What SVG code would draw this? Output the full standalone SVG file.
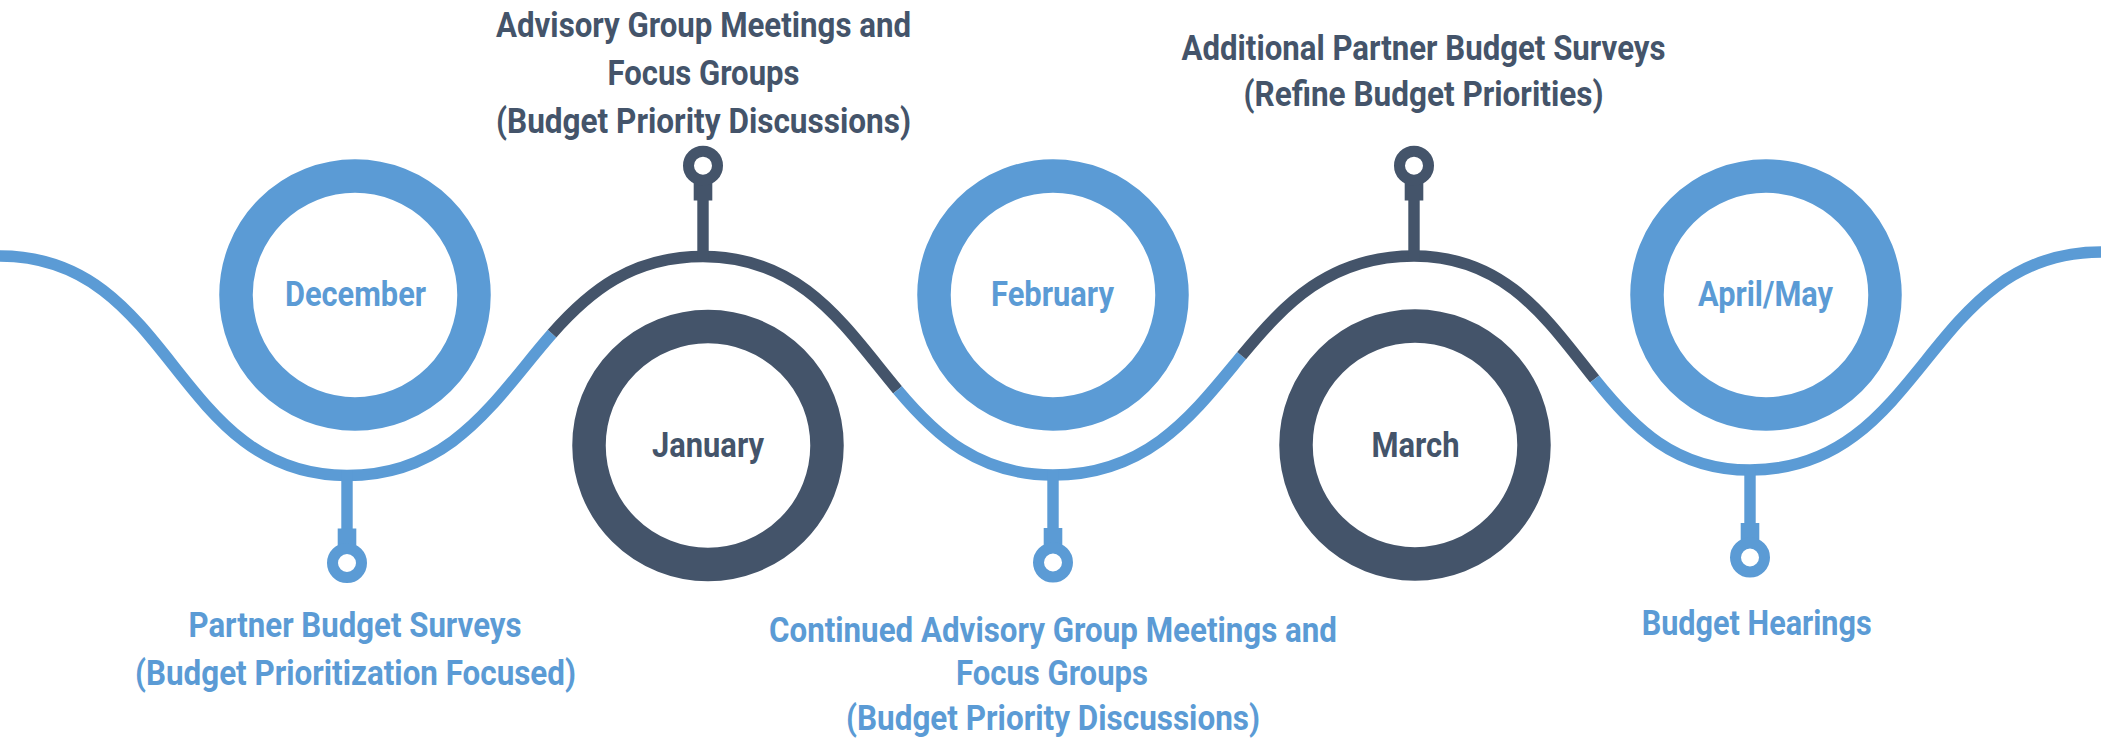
<svg xmlns="http://www.w3.org/2000/svg" width="2101" height="742" viewBox="0 0 2101 742">
  <style>
    .lbl { font-family: Roboto, "Liberation Sans", sans-serif; font-weight: 700; font-size: 35px; text-anchor: middle; }
    .light { fill: #5B9BD5; }
    .dark { fill: #44546A; }
    .wave { fill: none; stroke-width: 11.5; stroke-linecap: butt; }
    .wave.light { stroke: #5B9BD5; fill: none; }
    .wave.dark { stroke: #44546A; fill: none; }
    .ring { fill: none; stroke-width: 33.5; }
    .eye { fill: none; stroke-width: 11; }
  </style>

  <!-- timeline wave, split into coloured runs -->
  <g id="connectors">
    <path class="wave light" d="M -10,256 H 0 C 173.5,256 173.5,475.5 347,475.5 C 453.8,475.5 496.52,396.66 552.06,333.59"/>
    <path class="wave dark" d="M 552.06,333.59 C 589.08,291.54 631.8,256.5 703,256.5 C 803.45,256.5 846.24,328.49 897.57,389.83"/>
    <path class="wave light" d="M 897.57,389.83 C 935.66,435.35 978.45,475 1053,475 C 1148.67,475 1193.63,413.48 1241.63,355.66"/>
    <path class="wave dark" d="M 1241.63,355.66 C 1284.2,304.38 1329.17,256 1414,256 C 1506.4,256 1547.98,320.74 1594.64,379"/>
    <path class="wave light" d="M 1594.64,379 C 1632.82,426.67 1674.4,470 1750,470 C 1925.5,470 1925.5,252 2101,252 H 2112"/>
  </g>

  <!-- December -->
  <g id="node-december">
    <circle class="ring" cx="355" cy="295" r="119" stroke="#5B9BD5"/>
    <text class="lbl light" x="355.5" y="306" textLength="141" lengthAdjust="spacingAndGlyphs">December</text>
  </g>
  <g id="pin-december">
    <rect class="light" x="341.3" y="470" width="11.4" height="60"/>
    <rect class="light" x="337.7" y="528.5" width="18.6" height="19"/>
    <circle class="eye" cx="347" cy="563" r="14.5" stroke="#5B9BD5"/>
    <text class="lbl light" x="355" y="636.7" textLength="333" lengthAdjust="spacingAndGlyphs">Partner Budget Surveys</text>
    <text class="lbl light" x="355.5" y="685" textLength="441" lengthAdjust="spacingAndGlyphs">(Budget Prioritization Focused)</text>
  </g>

  <!-- January -->
  <g id="node-january">
    <circle class="ring" cx="708" cy="445.5" r="119" stroke="#44546A"/>
    <text class="lbl dark" x="708" y="457" textLength="112" lengthAdjust="spacingAndGlyphs">January</text>
  </g>
  <g id="pin-january">
    <rect class="dark" x="697.3" y="199" width="11.4" height="60"/>
    <rect class="dark" x="693.7" y="181.5" width="18.6" height="19"/>
    <circle class="eye" cx="703" cy="165.7" r="14.5" stroke="#44546A"/>
    <text class="lbl dark" x="703.5" y="36.7" textLength="415" lengthAdjust="spacingAndGlyphs">Advisory Group Meetings and</text>
    <text class="lbl dark" x="703.5" y="85" textLength="192" lengthAdjust="spacingAndGlyphs">Focus Groups</text>
    <text class="lbl dark" x="703.5" y="133.3" textLength="415" lengthAdjust="spacingAndGlyphs">(Budget Priority Discussions)</text>
  </g>

  <!-- February -->
  <g id="node-february">
    <circle class="ring" cx="1053" cy="295" r="119" stroke="#5B9BD5"/>
    <text class="lbl light" x="1052.5" y="306" textLength="123" lengthAdjust="spacingAndGlyphs">February</text>
  </g>
  <g id="pin-february">
    <rect class="light" x="1047.3" y="470" width="11.4" height="60"/>
    <rect class="light" x="1043.7" y="528" width="18.6" height="19"/>
    <circle class="eye" cx="1053" cy="562.5" r="14.5" stroke="#5B9BD5"/>
    <text class="lbl light" x="1053" y="641.7" textLength="568" lengthAdjust="spacingAndGlyphs">Continued Advisory Group Meetings and</text>
    <text class="lbl light" x="1052" y="685" textLength="192" lengthAdjust="spacingAndGlyphs">Focus Groups</text>
    <text class="lbl light" x="1053" y="730" textLength="414" lengthAdjust="spacingAndGlyphs">(Budget Priority Discussions)</text>
  </g>

  <!-- March -->
  <g id="node-march">
    <circle class="ring" cx="1415" cy="445" r="119" stroke="#44546A"/>
    <text class="lbl dark" x="1415.5" y="457" textLength="88" lengthAdjust="spacingAndGlyphs">March</text>
  </g>
  <g id="pin-march">
    <rect class="dark" x="1408.3" y="199" width="11.4" height="60"/>
    <rect class="dark" x="1404.7" y="181.5" width="18.6" height="19"/>
    <circle class="eye" cx="1414" cy="165.7" r="14.5" stroke="#44546A"/>
    <text class="lbl dark" x="1423.5" y="60" textLength="484" lengthAdjust="spacingAndGlyphs">Additional Partner Budget Surveys</text>
    <text class="lbl dark" x="1423.5" y="105.5" textLength="360" lengthAdjust="spacingAndGlyphs">(Refine Budget Priorities)</text>
  </g>

  <!-- April/May -->
  <g id="node-april-may">
    <circle class="ring" cx="1766" cy="295" r="119" stroke="#5B9BD5"/>
    <text class="lbl light" x="1765.5" y="306" textLength="135" lengthAdjust="spacingAndGlyphs">April/May</text>
  </g>
  <g id="pin-april-may">
    <rect class="light" x="1744.3" y="465" width="11.4" height="60"/>
    <rect class="light" x="1740.7" y="523" width="18.6" height="19"/>
    <circle class="eye" cx="1750" cy="557.5" r="14.5" stroke="#5B9BD5"/>
    <text class="lbl light" x="1756.7" y="635" textLength="230" lengthAdjust="spacingAndGlyphs">Budget Hearings</text>
  </g>
</svg>
